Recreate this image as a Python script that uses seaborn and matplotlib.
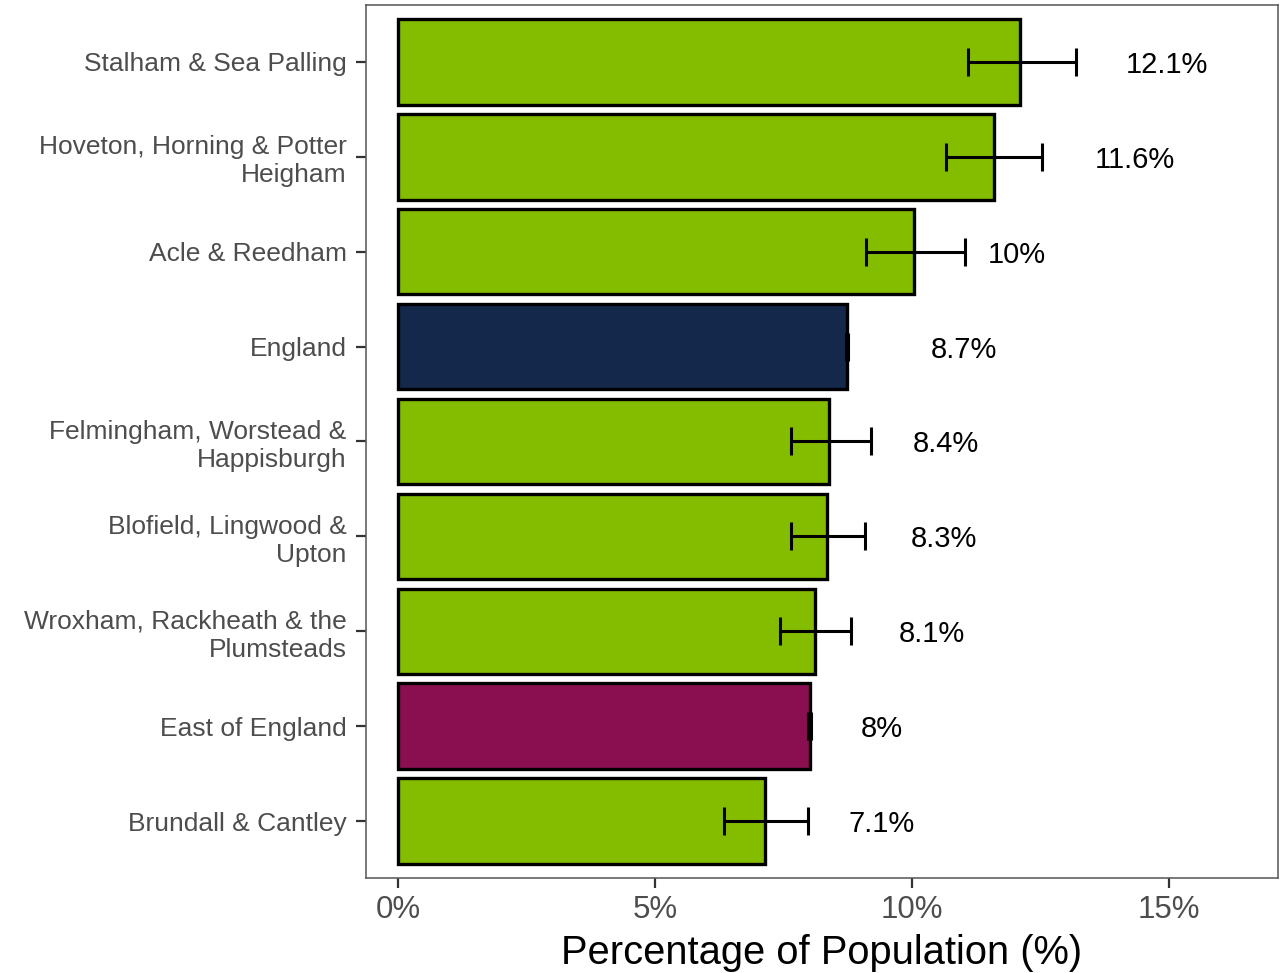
import numpy as np
import pandas as pd
import seaborn as sns
import matplotlib
matplotlib.use("Agg")
import matplotlib.pyplot as plt

# data (percent of population)
areas = ["Stalham & Sea Palling",
         "Hoveton, Horning & Potter\nHeigham",
         "Acle & Reedham",
         "England",
         "Felmingham, Worstead &\nHappisburgh",
         "Blofield, Lingwood &\nUpton",
         "Wroxham, Rackheath & the\nPlumsteads",
         "East of England",
         "Brundall & Cantley"]
values = [12.11, 11.60, 10.04, 8.74, 8.39, 8.34, 8.11, 8.01, 7.14]
lower = [11.10, 10.67, 9.11, 8.72, 7.64, 7.64, 7.43, 7.98, 6.35]
upper = [13.19, 12.54, 11.03, 8.76, 9.20, 9.08, 8.81, 8.04, 7.97]
labels = ["12.1%", "11.6%", "10%", "8.7%", "8.4%", "8.3%", "8.1%", "8%", "7.1%"]
label_x = [14.96, 14.34, 12.05, 11.01, 10.67, 10.62, 10.39, 9.42, 9.41]
area_type = ["ward", "ward", "ward", "england", "ward", "ward", "ward", "region", "ward"]
type_colours = {"ward": "#84BD00", "england": "#14284B", "region": "#8A0F50"}

xticks = [0, 5, 10, 15]

sns.set_style("white")
plt.rcParams["font.family"] = ["Liberation Sans", "DejaVu Sans"]

df = pd.DataFrame({"area": areas, "value": values, "lower": lower,
                   "upper": upper, "type": area_type})
palette = {a: type_colours[t] for a, t in zip(areas, area_type)}

fig = plt.figure(figsize=(12.86, 9.73), dpi=100)
ax = fig.add_axes([0.2846, 0.0976, 0.7092, 0.8973])

sns.barplot(data=df, x="value", y="area", hue="area", palette=palette,
            order=areas, hue_order=areas, dodge=False, legend=False,
            width=0.9, edgecolor="black", linewidth=2.4, errorbar=None,
            saturation=1, ax=ax)

v = np.array(values)
ax.errorbar(v, np.arange(len(areas)),
            xerr=[v - np.array(lower), np.array(upper) - v],
            fmt="none", ecolor="black", elinewidth=2.2, capsize=10,
            capthick=2.2, zorder=5)

for i, (lx, lab) in enumerate(zip(label_x, labels)):
    ax.text(lx, i, lab, ha="center", va="center_baseline", fontsize=21,
            color="black")

ax.set_xlim(-0.63, 17.13)
ax.set_ylim(len(areas) - 0.4, -0.6)
ax.set_xticks(xticks)
ax.set_xticklabels([f"{t}%" for t in xticks])
ax.set_xlabel("Percentage of Population (%)", fontsize=28.7, color="black",
              labelpad=6.5)
ax.set_ylabel("")

ax.tick_params(axis="y", left=True, labelsize=19, labelcolor="#4D4D4D",
               length=7.5, width=1.6, color="#333333", pad=6.5)
ax.tick_params(axis="x", bottom=True, labelsize=22.5, labelcolor="#4D4D4D",
               length=7.5, width=1.6, color="#333333", pad=5)
for lab in ax.get_yticklabels():
    lab.set_linespacing(1.2)

for s in ax.spines.values():
    s.set_visible(True)
    s.set_color("#555555")
    s.set_linewidth(1.1)

fig.savefig("out.png", dpi=100)
